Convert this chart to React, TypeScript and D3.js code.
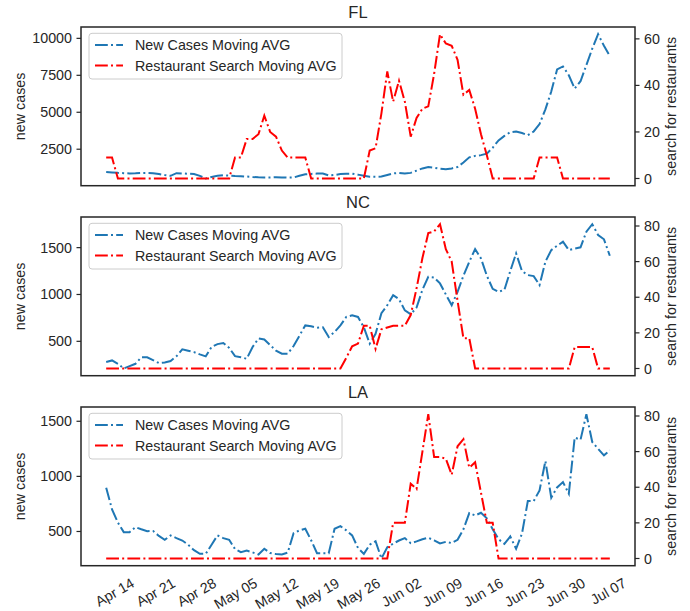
import React from 'react';
import * as d3 from 'd3';

// daily values, Apr 09 2020 -> Jul 04 2020
const startDate = new Date(Date.UTC(2020, 3, 9));

const flCases = [966, 930, 900, 880, 860, 870, 890, 900, 880, 820, 750, 700, 880, 860, 840, 820, 700, 520, 620, 700,
  740, 720, 690, 670, 650, 620, 600, 590, 590, 600, 590, 580, 590, 700, 800, 830, 850, 860, 730, 760,
  820, 840, 850, 780, 700, 640, 630, 650, 760, 860, 900, 850, 900, 1050, 1200, 1300, 1250, 1180, 1140, 1200,
  1300, 1600, 1950, 2050, 2100, 2200, 2600, 3100, 3400, 3650, 3700, 3600, 3450, 3700, 4200, 5200, 6400, 7900, 8100, 7500,
  6600, 7100, 8200, 9300, 10280, 9500, 8800];
const flSearch = [9, 9, 0, 0, 0, 0, 0, 0, 0, 0, 0, 0, 0, 0, 0, 0, 0, 0, 0, 0,
  0, 0, 9, 9, 17, 17, 19, 27, 20, 18, 12, 9, 9, 9, 9, 0, 0, 0, 0, 0,
  0, 0, 0, 0, 0, 12, 13, 28, 46, 33, 42, 33, 18, 26, 30, 31, 45, 62, 58, 57,
  51, 36, 38, 30, 19, 10, 0, 0, 0, 0, 0, 0, 0, 0, 9, 9, 9, 9, 0, 0,
  0, 0, 0, 0, 0, 0, 0];

const ncCases = [280, 296, 260, 210, 235, 260, 330, 330, 300, 268, 275, 290, 340, 414, 400, 385, 360, 339, 440, 470,
  482, 430, 342, 330, 314, 440, 530, 520, 460, 400, 368, 368, 450, 560, 670, 660, 646, 650, 546, 600,
  671, 760, 778, 760, 650, 475, 580, 800, 885, 993, 950, 830, 789, 860, 1050, 1189, 1182, 1118, 1000, 885,
  1028, 1200, 1349, 1485, 1385, 1200, 1060, 1028, 1050, 1250, 1439, 1250, 1207, 1196, 1100, 1350, 1474, 1520, 1563, 1474,
  1490, 1503, 1670, 1750, 1635, 1589, 1413];
const ncSearch = [0, 0, 0, 0, 0, 0, 0, 0, 0, 0, 0, 0, 0, 0, 0, 0, 0, 0, 0, 0,
  0, 0, 0, 0, 0, 0, 0, 0, 0, 0, 0, 0, 0, 0, 0, 0, 0, 0, 0, 0,
  0, 6, 12.5, 14, 24, 24, 11, 22, 23, 24, 24, 24, 30, 45, 62, 76, 77, 81, 67, 60,
  38, 17, 17, 0, 0, 0, 0, 0, 0, 0, 0, 0, 0, 0, 0, 0, 0, 0, 0, 0,
  12, 12, 12, 12, 0, 0, 0];

const laCases = [897, 700, 580, 494, 494, 539, 520, 503, 505, 460, 425, 464, 440, 418, 380, 330, 297, 297, 380, 464,
  440, 425, 340, 312, 327, 310, 291, 343, 304, 295, 291, 309, 485, 510, 525, 420, 303, 303, 303, 525,
  548, 510, 464, 350, 297, 380, 412, 255, 357, 390, 418, 440, 394, 410, 430, 443, 420, 391, 406, 395,
  425, 520, 667, 645, 670, 620, 520, 430, 388, 455, 343, 480, 776, 776, 873, 1139, 806, 900, 948, 843,
  1352, 1333, 1564, 1312, 1250, 1191, 1236];
const laSearch = [0, 0, 0, 0, 0, 0, 0, 0, 0, 0, 0, 0, 0, 0, 0, 0, 0, 0, 0, 0,
  0, 0, 0, 0, 0, 0, 0, 0, 0, 0, 0, 0, 0, 0, 0, 0, 0, 0, 0, 0,
  0, 0, 0, 0, 0, 0, 0, 0, 0, 20, 20, 20, 42, 39, 60, 81, 57, 57, 56, 47,
  63, 67, 51, 54, 37, 20, 20, 0, 0, 0, 0, 0, 0, 0, 0, 0, 0, 0, 0, 0,
  0, 0, 0, 0, 0, 0, 0];

const states = ['FL', 'NC', 'LA'];
const casesByState = [flCases, ncCases, laCases];
const searchByState = [flSearch, ncSearch, laSearch];
const leftTicks = [[2500, 5000, 7500, 10000], [500, 1000, 1500], [500, 1000, 1500]];
const rightTicks = [[0, 20, 40, 60], [0, 20, 40, 60, 80], [0, 20, 40, 60, 80]];
const xTickStart = new Date(Date.UTC(2020, 3, 14));
const xTickCount = 13;
const legendLabels = ['New Cases Moving AVG', 'Restaurant Search Moving AVG'];

const W = 690;
const H = 611;
const left = 81;
const right = 635;
const panelTops = [27, 217, 407];
const panelH = 158.7;
const blue = '#1f77b4';
const red = '#ff0000';
const ink = '#262626';
const font = '"Liberation Sans", Arial, sans-serif';
const fs = 14.3;
const dash = '12.8,3.2,2,3.2';

const dates = flCases.map((_, i) => d3.utcDay.offset(startDate, i));

// matplotlib style 5% padding
function padded(values: number[]): [number, number] {
  const [lo, hi] = d3.extent(values) as [number, number];
  const m = (hi - lo) * 0.05;
  return [lo - m, hi + m];
}

const App: React.FC = () => {
  const [d0, d1] = d3.extent(dates) as [Date, Date];
  const span = +d1 - +d0;
  const x = d3.scaleUtc()
    .domain([new Date(+d0 - span * 0.05), new Date(+d1 + span * 0.05)])
    .range([left, right]);
  const xTicks = d3.range(xTickCount).map((k) => d3.utcDay.offset(xTickStart, 7 * k));
  const fmt = d3.utcFormat('%b %d');

  return (
    <svg width={W} height={H} style={{ display: 'block', position: 'absolute', left: 0, top: 0 }}
      fontFamily={font} fill={ink}>
      <rect width={W} height={H} fill="#fff" />
      {states.map((st, p) => {
        const top = panelTops[p];
        const bottom = top + panelH;
        const yL = d3.scaleLinear().domain(padded(casesByState[p])).range([bottom, top]);
        const yR = d3.scaleLinear().domain(padded(searchByState[p])).range([bottom, top]);
        const lineL = d3.line<number>().x((_, i) => x(dates[i])).y((v) => yL(v));
        const lineR = d3.line<number>().x((_, i) => x(dates[i])).y((v) => yR(v));
        const midY = (top + bottom) / 2;
        return (
          <g key={st}>
            <text x={(left + right) / 2} y={top - 9} textAnchor="middle" fontSize={16.5}>{st}</text>
            <path d={lineL(casesByState[p]) || ''} fill="none" stroke={blue} strokeWidth={2} strokeDasharray={dash} />
            <path d={lineR(searchByState[p]) || ''} fill="none" stroke={red} strokeWidth={2} strokeDasharray={dash} />
            <rect x={left} y={top} width={right - left} height={panelH} fill="none" stroke={ink} strokeWidth={1.5} />
            {leftTicks[p].map((t) => (
              <g key={'l' + t} transform={`translate(${left},${yL(t)})`}>
                <line x1={-4.5} x2={0} stroke={ink} strokeWidth={1.2} />
                <text x={-9} dy="0.35em" textAnchor="end" fontSize={fs}>{t}</text>
              </g>
            ))}
            {rightTicks[p].map((t) => (
              <g key={'r' + t} transform={`translate(${right},${yR(t)})`}>
                <line x1={0} x2={4.5} stroke={ink} strokeWidth={1.2} />
                <text x={9} dy="0.35em" textAnchor="start" fontSize={fs}>{t}</text>
              </g>
            ))}
            <text transform={`translate(25,${midY}) rotate(-90)`} textAnchor="middle" fontSize={fs}>new cases</text>
            <text transform={`translate(676,${midY}) rotate(-90)`} textAnchor="middle" fontSize={fs}>search for restaurants</text>
            <g transform={`translate(89,${top + 6.3})`}>
              <rect x={0} y={0} width={253} height={45.7} rx={3} fill="#fff" fillOpacity={0.8}
                stroke="#cccccc" strokeWidth={1} />
              {legendLabels.map((lab, k) => (
                <g key={lab} transform={`translate(0,${11.7 + k * 20.5})`}>
                  <line x1={6} x2={34} stroke={k === 0 ? blue : red} strokeWidth={2} strokeDasharray={dash} />
                  <text x={46} dy="0.36em" fontSize={fs}>{lab}</text>
                </g>
              ))}
            </g>
          </g>
        );
      })}
      {xTicks.map((t) => (
        <text key={+t} transform={`translate(${x(t)},586) rotate(-30)`} textAnchor="end" fontSize={fs}>
          {fmt(t)}
        </text>
      ))}
    </svg>
  );
};

export default App;
